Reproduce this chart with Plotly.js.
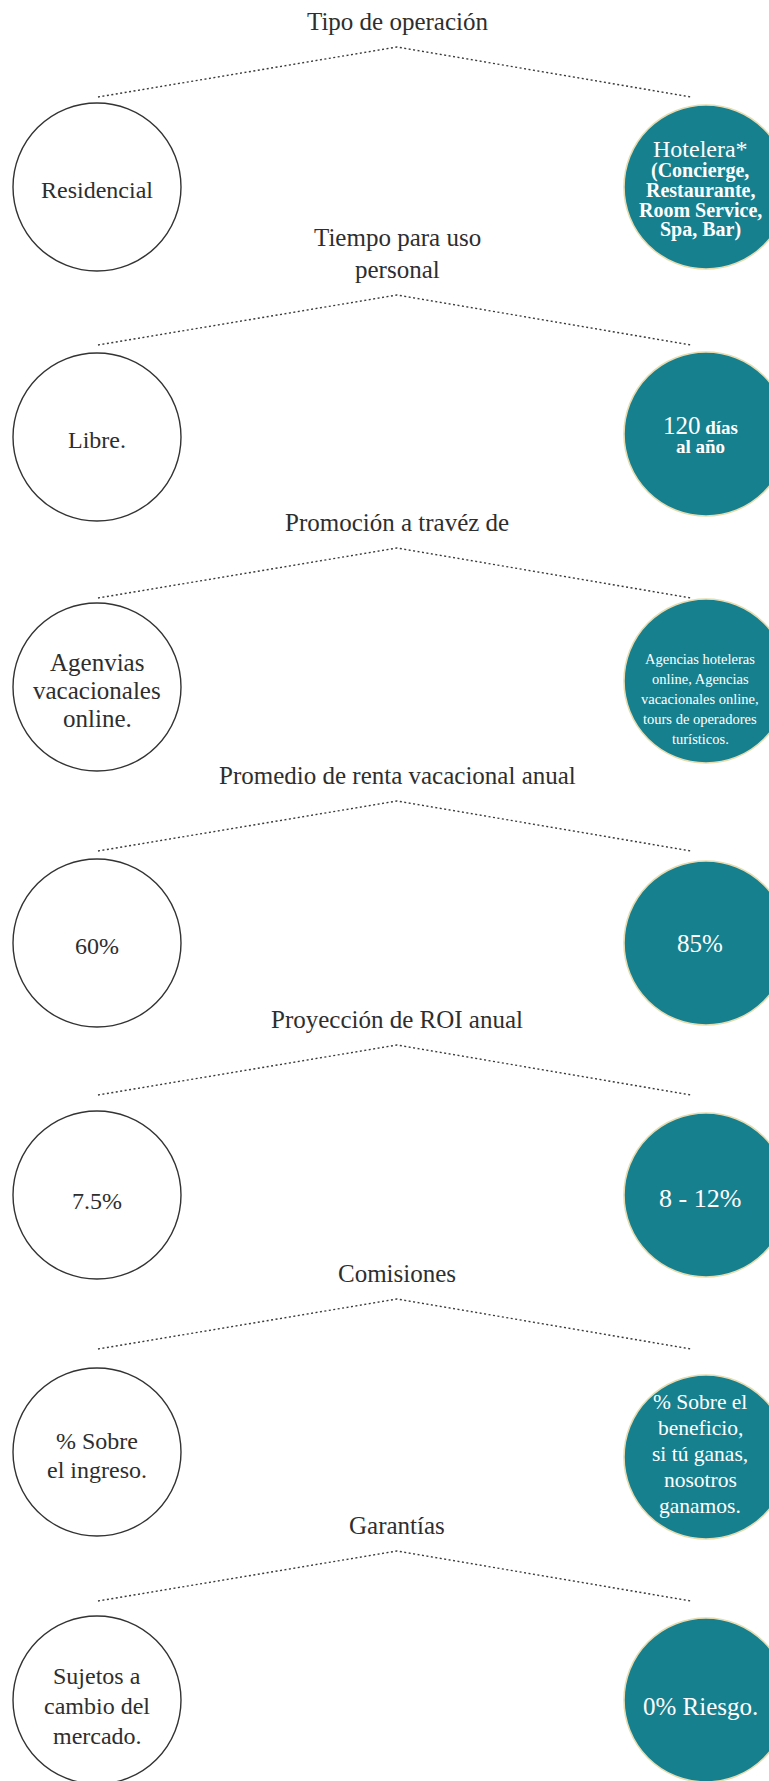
<!DOCTYPE html>
<html>
<head>
<meta charset="utf-8">
<script src="https://cdn.plot.ly/plotly-3.0.1.min.js"></script>
<style>html,body{margin:0;padding:0;background:#ffffff;}</style>
</head>
<body>
<div id="chart" style="width:769px;height:1781px;"></div>
<script>
// ---------- content ----------
const sectionTitles = [
  "Tipo de operación",
  "Tiempo para uso<br>personal",
  "Promoción a travéz de",
  "Promedio de renta vacacional anual",
  "Proyección de ROI anual",
  "Comisiones",
  "Garantías"
];
const leftLabels = [
  "Residencial",
  "Libre.",
  "Agenvias<br>vacacionales<br>online.",
  "60%",
  "7.5%",
  "% Sobre<br>el ingreso.",
  "Sujetos a<br>cambio del<br>mercado."
];
const rightLabels = [
  "<span style='font-size:24px'>Hotelera*</span><br><b>(Concierge,</b><br><b>Restaurante,</b><br><b>Room Service,</b><br><b>Spa, Bar)</b>",
  "<span style='font-size:25px'>120</span> <b>días</b><br><b>al año</b>",
  "Agencias hoteleras<br>online, Agencias<br>vacacionales online,<br>tours de operadores<br>turísticos.",
  "85%",
  "8 - 12%",
  "% Sobre el<br>beneficio,<br>si tú ganas,<br>nosotros<br>ganamos.",
  "0% Riesgo."
];

// ---------- layout geometry (page pixel system) ----------
const W = 769, H = 1781;
const MX = 397;                 // apex x of the dotted roof
const LX = 97, LR = 84;         // left circle centre x / radius
const RX = 706, RR = 82;        // right circle centre x / radius
const RTX = 700;                // right text centre x
const roofX0 = 98, roofX1 = 691;
const roofDrop = 50;
const apexY   = [47, 295, 548, 801, 1045, 1299, 1551];
const leftCY  = [187, 437, 687, 943, 1195, 1452, 1700];
const rightCY = [187, 434, 681, 943, 1195, 1457, 1700];
const titleAbove = 26, titleGap = 32;

const FONT = "Liberation Serif, Times New Roman, serif";
const TEAL = "#17808f";
const INK = "#2e2e2e";
const leftStyle = [
  {size: 24, gaps: [], dy: 3},
  {size: 24, gaps: [], dy: 3},
  {size: 25, gaps: [28, 28], dy: 3},
  {size: 24, gaps: [], dy: 3},
  {size: 24, gaps: [], dy: 6},
  {size: 24, gaps: [29], dy: 3},
  {size: 24, gaps: [30, 30], dy: 6}
];
const rightStyle = [
  {size: 20, gaps: [22, 19.5, 19.5, 19.5], dy: 2},
  {size: 19, gaps: [21], dy: 2},
  {size: 14.5, gaps: [20, 20, 20, 20], dy: 18},
  {size: 25, gaps: [], dy: 0},
  {size: 26, gaps: [], dy: 3},
  {size: 21.5, gaps: [26, 26, 26, 26], dy: -3},
  {size: 25, gaps: [], dy: 6}
];

// ---------- build ----------
const roofX = [], roofY = [];
const shapes = [];
const annotations = [];

function addLines(text, x, cy, gaps, font) {
  const lines = text.split("<br>");
  const offs = [0];
  for (let k = 1; k < lines.length; k++) offs.push(offs[k - 1] + gaps[k - 1]);
  const mid = offs[offs.length - 1] / 2;
  lines.forEach((ln, k) => {
    annotations.push({
      x: x, y: cy + offs[k] - mid,
      xref: "x", yref: "y", text: ln, showarrow: false,
      xanchor: "center", yanchor: "middle",
      font: font
    });
  });
}

sectionTitles.forEach((t, i) => {
  // dotted roof
  roofX.push(roofX0, MX, roofX1, null);
  roofY.push(apexY[i] + roofDrop, apexY[i], apexY[i] + roofDrop, null);

  // title (last line sits just above the apex)
  const tl = t.split("<br>");
  tl.forEach((ln, k) => {
    annotations.push({
      x: MX, y: apexY[i] - titleAbove - (tl.length - 1 - k) * titleGap,
      xref: "x", yref: "y", text: ln, showarrow: false,
      xanchor: "center", yanchor: "middle",
      font: {family: FONT, size: 25, color: INK}
    });
  });

  // circles
  shapes.push({
    type: "circle", xref: "x", yref: "y", layer: "above",
    x0: LX - LR, x1: LX + LR, y0: leftCY[i] - LR, y1: leftCY[i] + LR,
    fillcolor: "#ffffff", line: {color: "#333333", width: 1.4}
  });
  shapes.push({
    type: "circle", xref: "x", yref: "y", layer: "above",
    x0: RX - RR, x1: RX + RR, y0: rightCY[i] - RR, y1: rightCY[i] + RR,
    fillcolor: TEAL, line: {color: "#e6dcb0", width: 1.6}
  });

  const ls = leftStyle[i];
  addLines(leftLabels[i], LX, leftCY[i] + ls.dy, ls.gaps,
           {family: FONT, size: ls.size, color: INK});
  const rs = rightStyle[i];
  addLines(rightLabels[i], RTX, rightCY[i] + rs.dy, rs.gaps,
           {family: FONT, size: rs.size, color: "#ffffff"});
});

const traces = [{
  type: "scatter", mode: "lines", x: roofX, y: roofY,
  line: {color: "#3a3a3a", width: 1.4, dash: "2px,2.5px"},
  hoverinfo: "skip", showlegend: false, connectgaps: false
}];

const layout = {
  width: W, height: H,
  margin: {l: 0, r: 0, t: 0, b: 0, pad: 0},
  paper_bgcolor: "#ffffff", plot_bgcolor: "#ffffff",
  xaxis: {range: [0, W], visible: false, fixedrange: true, showgrid: false, zeroline: false},
  yaxis: {range: [H, 0], visible: false, fixedrange: true, showgrid: false, zeroline: false},
  shapes: shapes,
  annotations: annotations,
  showlegend: false
};

Plotly.newPlot("chart", traces, layout, {displayModeBar: false, staticPlot: true});
</script>
</body>
</html>
